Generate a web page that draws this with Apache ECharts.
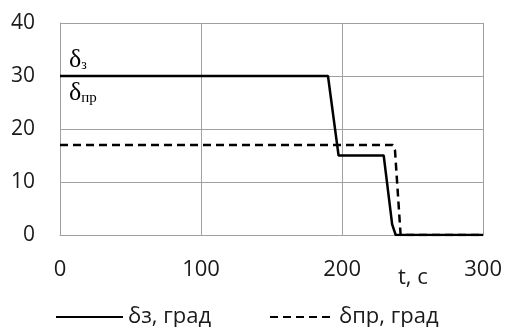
<!DOCTYPE html>
<html><head><meta charset="utf-8">
<script src="https://cdn.jsdelivr.net/npm/echarts@6/dist/echarts.min.js"></script>
<style>html,body{margin:0;padding:0;background:#fff}#c{width:505px;height:327px}</style>
</head><body><div id="c"></div>
<script>
const xTicks = [0, 100, 200, 300];
const yTicks = [0, 10, 20, 30, 40];
const tZ = [0, 190, 197.5, 229.5, 235.5, 238, 300];
const vZ = [30, 30, 15, 15, 2, 0, 0];
const tPr = [0, 236, 237.5, 241.5, 300];
const vPr = [17, 17, 16, 0, 0];
const nameZ = 'δз, град';
const namePr = 'δпр, град';
const xName = 't, с';

const chart = echarts.init(document.getElementById('c'));
const font = '"Open Sans", sans-serif';
const txt = '#1a1a1a';
chart.setOption({
  animation: false,
  grid: {left: 60, right: 21, top: 23, bottom: 92},
  xAxis: {type: 'value', min: 0, max: 300, interval: 100,
    axisLine: {show: true, lineStyle: {color: '#a0a0a0', width: 1}},
    axisTick: {show: false},
    splitLine: {show: true, lineStyle: {color: '#a0a0a0', width: 1}},
    axisLabel: {color: txt, fontSize: 22, fontFamily: font, margin: 24}},
  yAxis: {type: 'value', min: 0, max: 40, interval: 10,
    axisLine: {show: true, lineStyle: {color: '#a0a0a0', width: 1}},
    axisTick: {show: false},
    splitLine: {show: true, lineStyle: {color: '#a0a0a0', width: 1}},
    axisLabel: {color: txt, fontSize: 21, fontFamily: font, margin: 25}},
  legend: [
    {left: 50, top: 301, itemWidth: 67, itemHeight: 14, data: [nameZ],
      itemStyle: {opacity: 0},
      textStyle: {fontSize: 22, fontFamily: font, color: txt, padding: [0,0,0,0]}},
    {left: 264, top: 301, itemWidth: 62, itemHeight: 14, data: [namePr],
      itemStyle: {opacity: 0},
      textStyle: {fontSize: 22, fontFamily: font, color: txt, padding: [0,0,0,2]}}
  ],
  graphic: [
    {type: 'text', left: 398, top: 267, style: {text: xName, fontSize: 22, fontFamily: font, fill: txt}},
    {type: 'text', left: 69, top: 47, style: {
      text: '{d|δ}{s|з}', rich: {d: {fontSize: 26, fontFamily: '"Liberation Serif", serif', fill: '#000'},
        s: {fontSize: 14, fontFamily: '"Liberation Serif", serif', fill: '#000', padding: [10,0,0,0]}}}},
    {type: 'text', left: 69, top: 80, style: {
      text: '{d|δ}{s|пр}', rich: {d: {fontSize: 26, fontFamily: '"Liberation Serif", serif', fill: '#000'},
        s: {fontSize: 15, fontFamily: '"Liberation Serif", serif', fill: '#000', padding: [10,0,0,0]}}}}
  ],
  series: [
    {name: nameZ, type: 'line', showSymbol: false, symbol: 'none',
      data: tZ.map((t, i) => [t, vZ[i]]),
      lineStyle: {color: '#000', width: 2.5}, itemStyle: {color: '#000'}, z: 3},
    {name: namePr, type: 'line', showSymbol: false, symbol: 'none',
      data: tPr.map((t, i) => [t, vPr[i]]),
      lineStyle: {color: '#000', width: 2.5, type: [8, 5]}, itemStyle: {color: '#000'}, z: 2}
  ]
});
</script></body></html>
